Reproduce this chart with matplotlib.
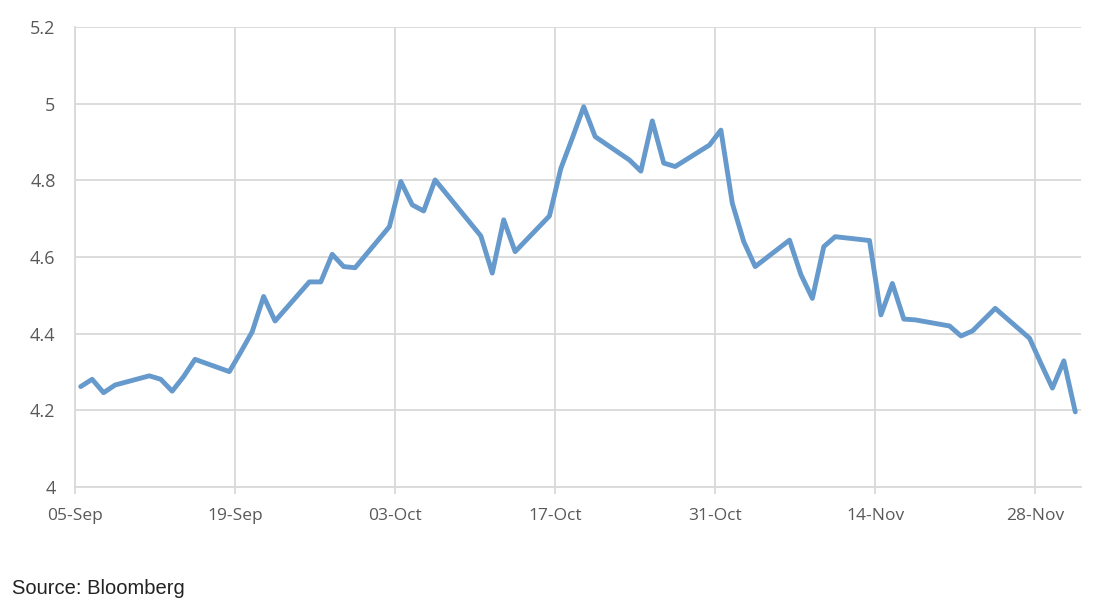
import matplotlib
matplotlib.use('Agg')
import matplotlib.pyplot as plt
import matplotlib.dates as mdates
import pandas as pd
import numpy as np

# US 10y yield, business days (Bloomberg)
dates = ['2023-09-05', '2023-09-06', '2023-09-07', '2023-09-08',
         '2023-09-11', '2023-09-12', '2023-09-13', '2023-09-14', '2023-09-15',
         '2023-09-18', '2023-09-19', '2023-09-20', '2023-09-21', '2023-09-22',
         '2023-09-25', '2023-09-26', '2023-09-27', '2023-09-28', '2023-09-29',
         '2023-10-02', '2023-10-03', '2023-10-04', '2023-10-05', '2023-10-06',
         '2023-10-10', '2023-10-11', '2023-10-12', '2023-10-13',
         '2023-10-16', '2023-10-17', '2023-10-18', '2023-10-19', '2023-10-20',
         '2023-10-23', '2023-10-24', '2023-10-25', '2023-10-26', '2023-10-27',
         '2023-10-30', '2023-10-31', '2023-11-01', '2023-11-02', '2023-11-03',
         '2023-11-06', '2023-11-07', '2023-11-08', '2023-11-09', '2023-11-10',
         '2023-11-13', '2023-11-14', '2023-11-15', '2023-11-16', '2023-11-17',
         '2023-11-20', '2023-11-21', '2023-11-22', '2023-11-24',
         '2023-11-27', '2023-11-28', '2023-11-29', '2023-11-30', '2023-12-01']
yields = [4.262, 4.281, 4.246, 4.266,
          4.290, 4.281, 4.250, 4.288, 4.333,
          4.301, 4.352, 4.405, 4.497, 4.433,
          4.535, 4.535, 4.607, 4.575, 4.572,
          4.679, 4.797, 4.736, 4.720, 4.801,
          4.655, 4.558, 4.697, 4.614,
          4.707, 4.831, 4.910, 4.992, 4.914,
          4.853, 4.824, 4.955, 4.845, 4.836,
          4.892, 4.931, 4.740, 4.640, 4.575,
          4.644, 4.554, 4.492, 4.627, 4.653,
          4.643, 4.449, 4.531, 4.438, 4.436,
          4.420, 4.394, 4.407, 4.466,
          4.388, 4.322, 4.258, 4.329, 4.196]
tick_dates = ['2023-09-05', '2023-09-19', '2023-10-03', '2023-10-17',
              '2023-10-31', '2023-11-14', '2023-11-28']
y_ticks = [4, 4.2, 4.4, 4.6, 4.8, 5, 5.2]
y_labels = ['4', '4.2', '4.4', '4.6', '4.8', '5', '5.2']

grid_col = '#d9d9d9'
line_col = '#6699cc'

fig = plt.figure(figsize=(10.98, 6.08), dpi=100)
ax = fig.add_axes([75 / 1098, 1 - 487 / 608, (1081 - 75) / 1098, (487 - 27) / 608])

# Excel date axis: points sit in the middle of each day slot
x = pd.to_datetime(dates) + pd.Timedelta(hours=12)
ax.plot(x, yields, color=line_col, lw=3.5, solid_joinstyle='round', solid_capstyle='round')

ax.set_xlim(pd.Timestamp('2023-09-05'), pd.Timestamp('2023-12-02'))
ax.set_ylim(4, 5.2)
ax.set_xticks(pd.to_datetime(tick_dates))
ax.xaxis.set_major_formatter(mdates.DateFormatter('%d-%b'))
ax.set_yticks(y_ticks)
ax.set_yticklabels(y_labels)

ax.grid(True, color=grid_col, lw=1.3)
ax.set_axisbelow(True)
for s in ['top', 'right']:
    ax.spines[s].set_visible(False)
ax.spines['left'].set_color(grid_col)
ax.spines['left'].set_linewidth(1.3)
ax.spines['bottom'].set_color(grid_col)
ax.spines['bottom'].set_linewidth(1.3)
ax.tick_params(axis='y', length=0, pad=14, labelsize=13, labelcolor='#595959')
ax.tick_params(axis='x', length=5, width=1.3, color=grid_col, pad=10,
               labelsize=12.5, labelcolor='#595959')
for lab in ax.get_xticklabels() + ax.get_yticklabels():
    lab.set_fontfamily('Open Sans')

fig.text(12 / 1098, 1 - 588 / 608, 'Source: Bloomberg', fontsize=14.5,
         family='Liberation Sans', color='#222222', va='center')

fig.savefig('out.png', dpi=100)
